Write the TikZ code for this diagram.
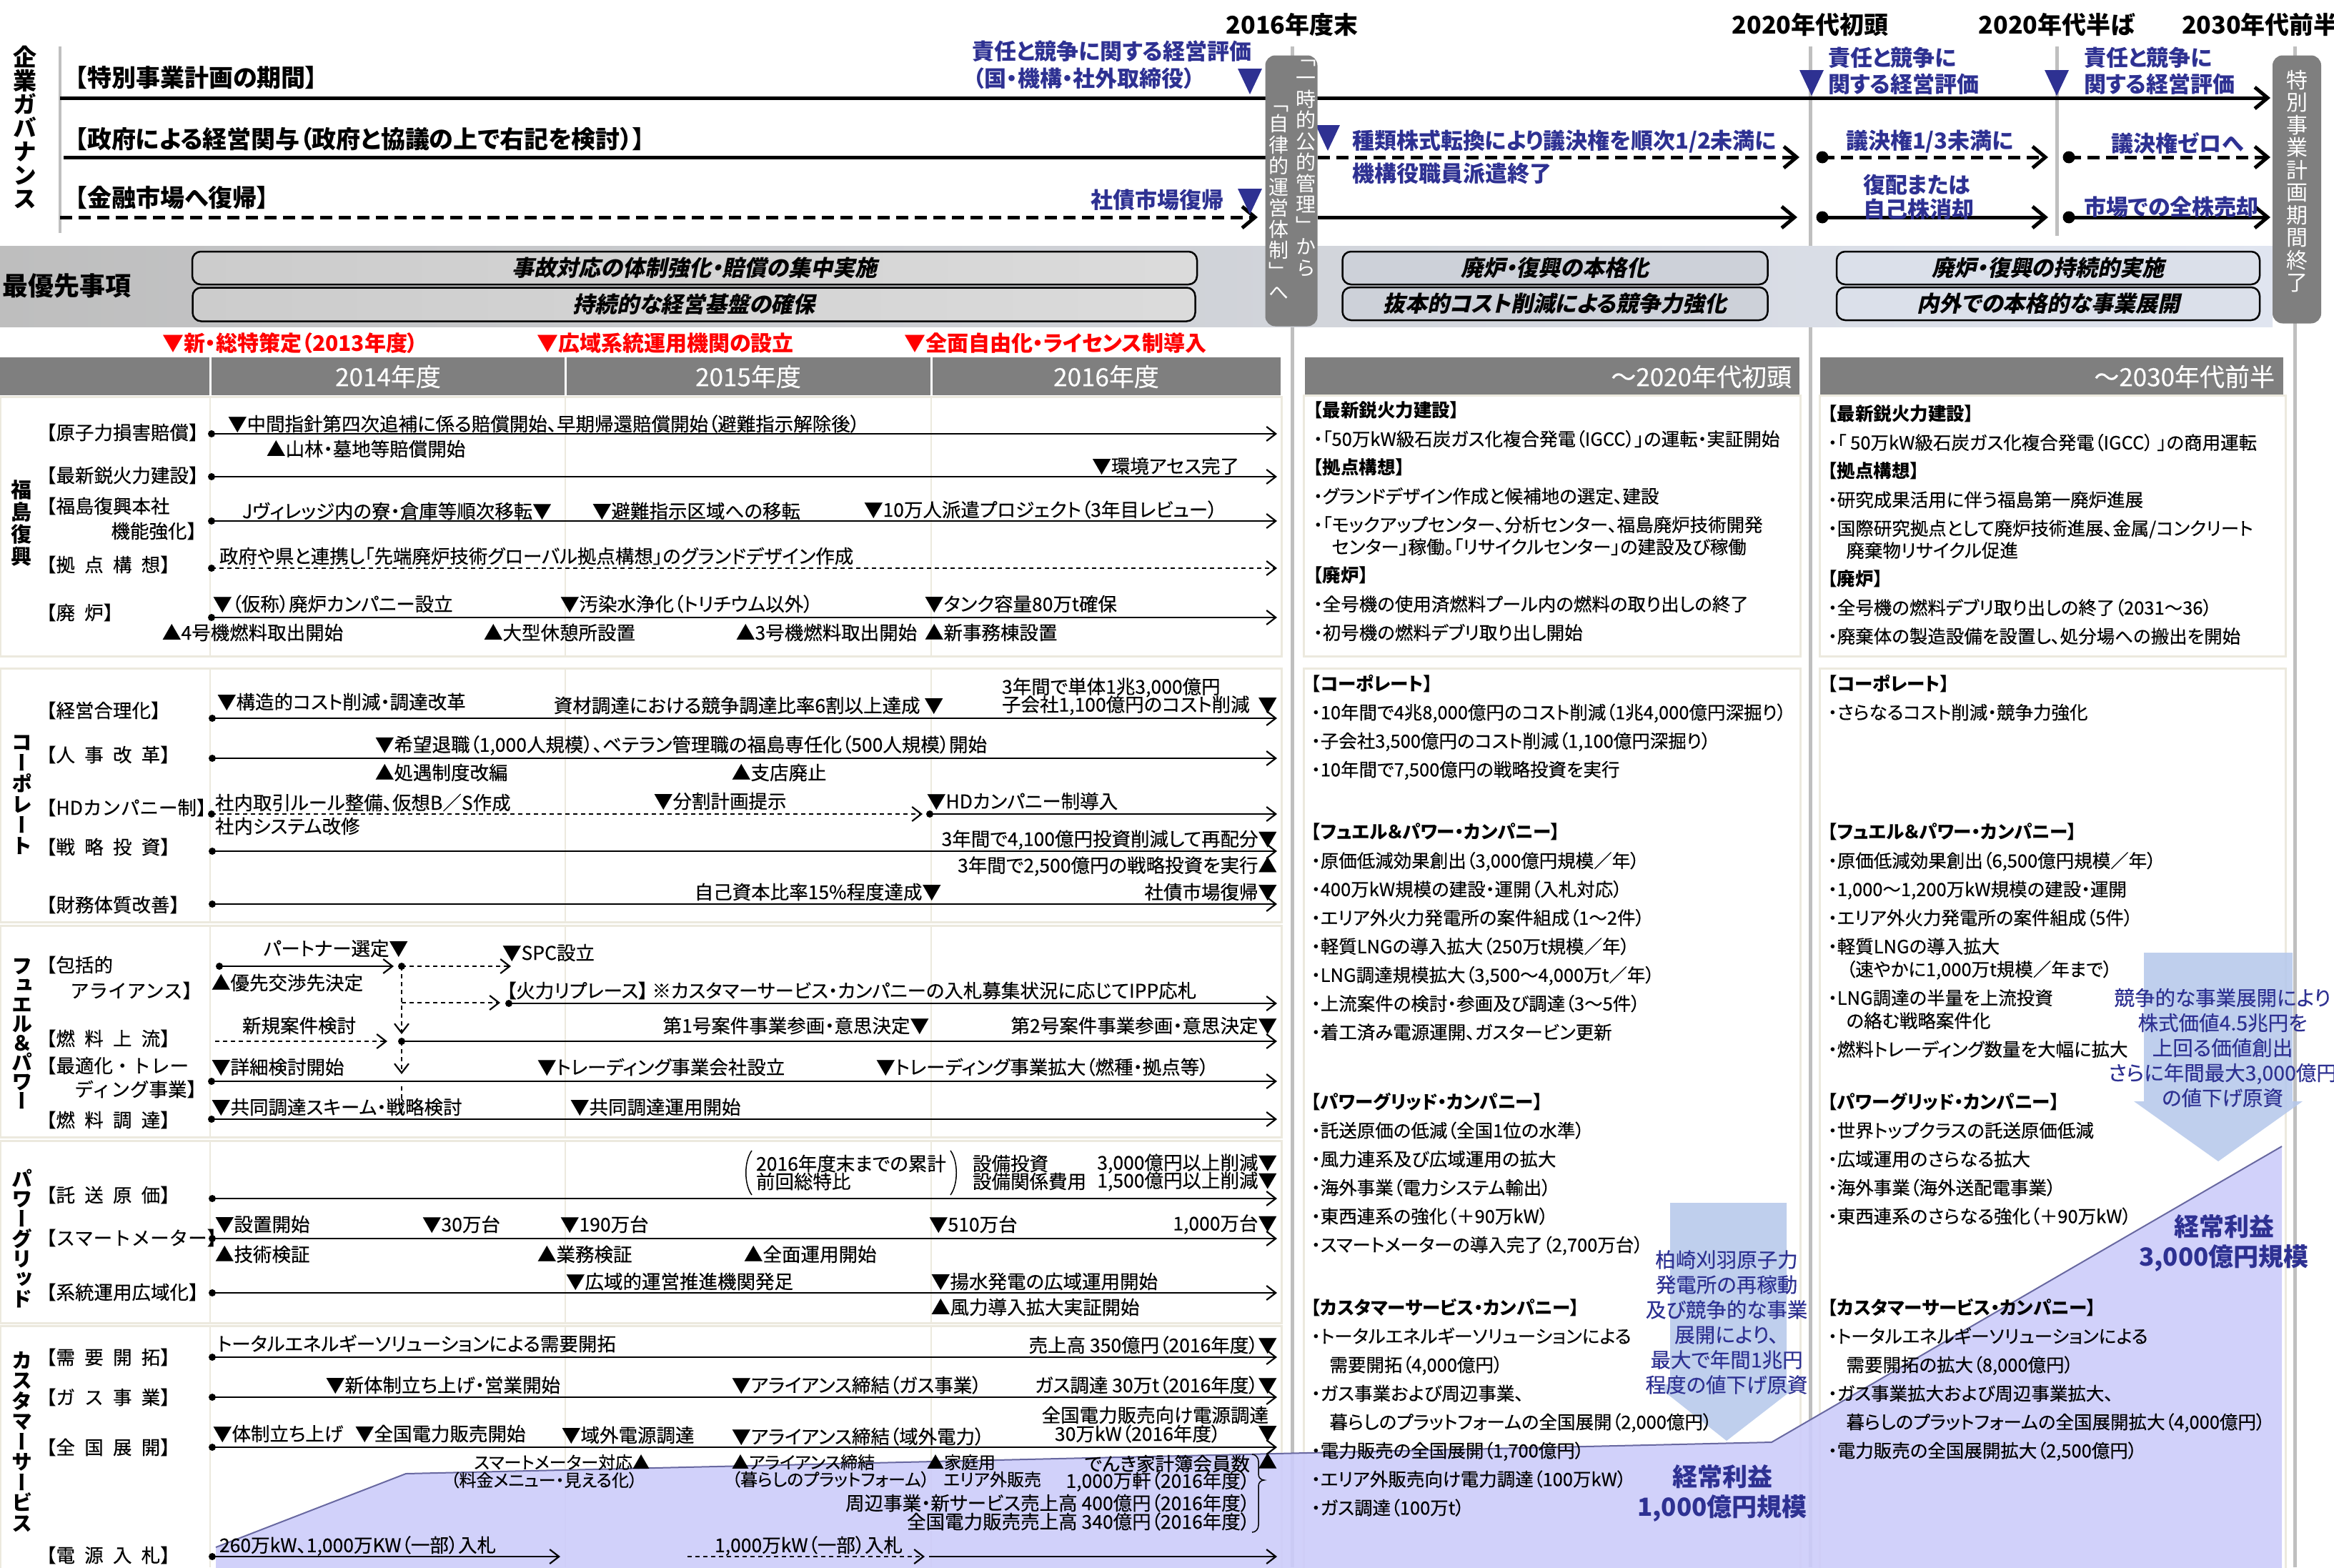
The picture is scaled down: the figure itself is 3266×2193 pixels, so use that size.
\documentclass[tikz,border=0pt]{standalone}
\usepackage{fontspec}
\setmainfont{Noto Sans CJK JP}[RawFeature=+palt,UprightFeatures={FakeBold=0.3}]
\newfontfamily\lfont{Noto Sans CJK JP}[UprightFeatures={FakeBold=0.3}]
\newfontfamily\slfont{Noto Sans CJK JP}[FakeSlant=0.22,RawFeature=+palt]
\newfontfamily\vfont{Noto Sans CJK JP}[RawFeature=+vert]
\usetikzlibrary{arrows.meta,positioning}
\definecolor{navyb}{RGB}{46,49,146}
\definecolor{hdgray}{RGB}{127,127,127}
\definecolor{beige}{RGB}{236,233,222}
\definecolor{tlgray}{RGB}{191,191,191}
\definecolor{lav}{RGB}{204,204,250}
\definecolor{lavedge}{RGB}{104,104,160}
\definecolor{arrblue}{RGB}{180,199,235}
\definecolor{bandl}{RGB}{190,190,190}
\definecolor{bandr}{RGB}{224,229,240}
\newcommand\fs[2]{\fontsize{#1}{#2}\selectfont}
\newcommand\gp{\hspace{0.5em}}
\makeatletter
\newcommand\tate[2]{\vbox{\baselineskip=#1\lineskiplimit=-\maxdimen
  \@tfor\tch:=#2\do{\hbox to 1em{\hss\tch\hss}}}}
\makeatother
\newcommand\mk[2]{\fill[navyb] (#1-17,#2-36) -- (#1+17,#2-36) -- (#1,#2) -- cycle;}

\begin{document}
\begin{tikzpicture}[x=1pt,y=-1pt]
  \tikzstyle{every node}=[inner sep=0pt,outer sep=0pt]
  \tikzstyle{txt}=[font=\fs{26.5}{30}]
  \tikzstyle{lw}=[txt,anchor=west]
  \tikzstyle{le}=[txt,anchor=east]
  \tikzstyle{sw}=[anchor=west,font=\fs{24}{28}]
  \tikzstyle{se}=[anchor=east,font=\fs{24}{28}]
  \tikzstyle{lab}=[anchor=west,font=\lfont\fs{26.5}{30}]
  \tikzstyle{labe}=[anchor=east,font=\lfont\fs{26.5}{30}]
  \tikzstyle{hg}=[anchor=west,font=\bfseries\fs{34}{40}]
  \tikzstyle{bl}=[anchor=west,font=\bfseries\fs{31}{38},text=navyb]
  \tikzstyle{evred}=[anchor=west,font=\bfseries\fs{30}{36},text=red]
  \tikzstyle{tl}=[line width=2.2pt,-{Straight Barb[length=13pt,width=20pt]}]
  \tikzstyle{tlf}=[tl,dash pattern=on 6pt off 5pt]
  \tikzstyle{gov}=[line width=5pt,-{Straight Barb[length=18pt,width=30pt]}]
  \tikzstyle{govd}=[gov,dash pattern=on 17pt off 9pt]
  \tikzstyle{dot}=[circle,fill=black,minimum size=10pt]
  \tikzstyle{bigdot}=[circle,fill=black,minimum size=17pt]
  \tikzstyle{prio}=[draw=black,line width=2.5pt,rounded corners=12pt,font=\slfont\bfseries\fs{31}{36}]
  \tikzstyle{sect}=[draw=beige,line width=3pt,fill=white]
  \tikzstyle{colsep}=[draw=beige,line width=2pt]
  \tikzstyle{tline}=[draw=tlgray,line width=5pt]
  \tikzstyle{hdt}=[text=white,font=\fs{35}{40}]
  \tikzstyle{vlab}=[anchor=north,font=\vfont\bfseries\fs{29}{29}]
  \tikzstyle{gbox}=[fill=hdgray,rounded corners=14pt]
  \tikzstyle{rt}=[anchor=north west,align=left,font=\fs{25.5}{40}]
  \tikzstyle{kei}=[align=center,font=\bfseries\fs{35}{42},text=navyb]
  \tikzstyle{arrt}=[align=center,font=\fs{28.5}{35},text=navyb]

  \useasboundingbox (0,0) rectangle (3266,2193);

  \draw[tline] (1808,65) -- (1808,2193);
  \draw[tline] (2533,65) -- (2533,2193);
  \draw[tline] (2878,65) -- (2878,330);
  \draw[tline] (3211,65) -- (3211,2193);
  \draw[tlgray,line width=4pt] (84,65) -- (84,326);

  \node[anchor=north,font=\vfont\bfseries\fs{33}{33}] (gov) at (35,64) {\tate{33pt}{企業ガバナンス}};
  \node[hg] (h1) at (105,109) {【特別事業計画の期間】};
  \node[hg] (h2) at (105,195) {【政府による経営関与（政府と協議の上で右記を検討）】};
  \node[hg] (h3) at (105,277) {【金融市場へ復帰】};

  \node[font=\bfseries\fs{34}{40}] (y16) at (1808,35) {2016年度末};
  \node[font=\bfseries\fs{34}{40}] (y20a) at (2533,35) {2020年代初頭};
  \node[font=\bfseries\fs{34}{40}] (y20b) at (2878,35) {2020年代半ば};
  \node[font=\bfseries\fs{34}{40},anchor=west] (y30) at (3053,35) {2030年代前半};

  \coordinate (g1s) at (84,137);
  \coordinate (g1e) at (3177,137);
  \draw[gov] (g1s) -- (g1e);
  \coordinate (g2s) at (89,220);
  \coordinate (g2m) at (1780,220);
  \coordinate (g2a) at (1844,220);
  \coordinate (g2b) at (2518,220);
  \node[bigdot] (g2c) at (2550,220) {};
  \coordinate (g2d) at (2866,220);
  \node[bigdot] (g2e) at (2895,220) {};
  \coordinate (g2f) at (3177,220);
  \draw[line width=5pt] (g2s) -- (g2m);
  \draw[govd] (g2a) -- (g2b);
  \draw[govd] (g2c.center) -- (g2d);
  \draw[govd] (g2e.center) -- (g2f);
  \coordinate (g3s) at (84,304);
  \coordinate (g3a) at (1760,304);
  \coordinate (g3b) at (1844,304);
  \coordinate (g3c) at (2515,304);
  \node[bigdot] (g3d) at (2550,304) {};
  \coordinate (g3e) at (2866,304);
  \node[bigdot] (g3f) at (2895,304) {};
  \coordinate (g3g) at (3177,304);
  \draw[govd] (g3s) -- (g3a);
  \draw[gov] (g3b) -- (g3c);
  \draw[gov] (g3d.center) -- (g3e);
  \draw[gov] (g3f.center) -- (g3g);

  \mk{1749}{132}
  \mk{1749}{300}
  \mk{1858}{211}
  \mk{2535}{134}
  \mk{2878}{134}

  \node[bl] (b1) at (1360,72) {責任と競争に関する経営評価};
  \node[bl] (b2) at (1362,110) {（国・機構・社外取締役）};
  \node[bl,anchor=east] (b3) at (1712,280) {社債市場復帰};
  \node[bl] (b4) at (1892,198) {種類株式転換により議決権を順次1/2未満に};
  \node[bl] (b5) at (1892,243) {機構役職員派遣終了};
  \node[bl] (b6) at (2558,81) {責任と競争に};
  \node[bl] (b7) at (2558,118) {関する経営評価};
  \node[bl] (b8) at (2583,198) {議決権1/3未満に};
  \node[bl] (b9) at (2607,259) {復配または};
  \node[bl] (b10) at (2607,293) {自己株消却};
  \node[bl] (b11) at (2916,81) {責任と競争に};
  \node[bl] (b12) at (2916,118) {関する経営評価};
  \node[bl] (b13) at (2954,200) {議決権ゼロへ};
  \node[bl] (b14) at (2916,290) {市場での全株売却};

  \shade[left color=bandl,right color=bandr] (0,344) rectangle (3180,457);
  \node[anchor=west,font=\bfseries\fs{36}{40}] (prio) at (3,400) {最優先事項};
  \node[prio,left color=gray!40,right color=gray!28,minimum width=1406pt,minimum height=46pt] (pa1) at (972,375) {事故対応の体制強化・賠償の集中実施};
  \node[prio,left color=gray!40,right color=gray!28,minimum width=1403pt,minimum height=47pt] (pa2) at (971,426) {持続的な経営基盤の確保};
  \node[prio,fill=bandr!80!gray,minimum width=595pt,minimum height=46pt] (pb1) at (2176,375) {廃炉・復興の本格化};
  \node[prio,fill=bandr!80!gray,minimum width=595pt,minimum height=46pt] (pb2) at (2176,425) {抜本的コスト削減による競争力強化};
  \node[prio,fill=bandr!95!gray,minimum width=592pt,minimum height=46pt] (pc1) at (2866,375) {廃炉・復興の持続的実施};
  \node[prio,fill=bandr!95!gray,minimum width=592pt,minimum height=46pt] (pc2) at (2866,425) {内外での本格的な事業展開};

  \node[gbox,minimum width=73pt,minimum height=379pt] (mid) at (1807,267) {};
  \node[anchor=north,text=white,font=\vfont\fs{28}{28}] (midr) at (1827,84) {\tate{29.5pt}{「一時的公的管理」から}};
  \node[anchor=north,text=white,font=\vfont\fs{28}{28}] (midl) at (1789,148) {\tate{29.5pt}{「自律的運営体制」へ}};
  \node[gbox,minimum width=68pt,minimum height=375pt] (endb) at (3214,265) {};
  \node[anchor=north,text=white,font=\vfont\fs{30}{30}] (endt) at (3214,98) {\tate{31.5pt}{特別事業計画期間終了}};

  \node[evred] (r1) at (227,480) {▼新・総特策定（2013年度）};
  \node[evred] (r2) at (751,480) {▼広域系統運用機関の設立};
  \node[evred] (r3) at (1265,480) {▼全面自由化・ライセンス制導入};

  \fill[hdgray] (0,500) rectangle (293,553);
  \fill[hdgray] (296,500) rectangle (790,553);
  \fill[hdgray] (793,500) rectangle (1302,553);
  \fill[hdgray] (1305,500) rectangle (1792,553);
  \fill[hdgray] (1826,500) rectangle (2518,553);
  \fill[hdgray] (2547,500) rectangle (3195,553);
  \node[hdt] (c14) at (543,527) {2014年度};
  \node[hdt] (c15) at (1047,527) {2015年度};
  \node[hdt] (c16) at (1548,527) {2016年度};
  \node[hdt,anchor=east] (c20) at (2507,527) {～2020年代初頭};
  \node[hdt,anchor=east] (c30) at (3183,527) {～2030年代前半};

  \draw[sect] (0,555) rectangle (1793,918);
  \draw[sect] (0,935) rectangle (1793,1290);
  \draw[sect] (0,1295) rectangle (1793,1591);
  \draw[sect] (0,1596) rectangle (1793,1851);
  \draw[sect] (0,1855) rectangle (1793,2210);
  \draw[sect] (1824,553) rectangle (2519,918);
  \draw[sect] (1824,935) rectangle (2519,2210);
  \draw[sect] (2546,553) rectangle (3198,918);
  \draw[sect] (2546,935) rectangle (3198,2210);
  \draw[colsep] (294,555) -- (294,918) (791,555) -- (791,918) (1303,555) -- (1303,918);
  \draw[colsep] (294,935) -- (294,1290) (791,935) -- (791,1290) (1303,935) -- (1303,1290);
  \draw[colsep] (294,1295) -- (294,1591) (791,1295) -- (791,1591) (1303,1295) -- (1303,1591);
  \draw[colsep] (294,1596) -- (294,1851) (791,1596) -- (791,1851) (1303,1596) -- (1303,1851);
  \draw[colsep] (294,1855) -- (294,2193) (791,1855) -- (791,2193) (1303,1855) -- (1303,2193);

  \fill[lav,opacity=0.9] (302,2200) -- (302,2165) -- (568,2062) -- (2479,2018) -- (3193,1604) -- (3193,2200) -- cycle;
  \draw[lavedge,line width=2pt] (302,2165) -- (568,2062) -- (2479,2018) -- (3193,1604);
  \fill[arrblue,opacity=0.85] (2337,1683) -- (2500,1683) -- (2500,1937) -- (2518,1937) -- (2416,2016) -- (2316,1937) -- (2337,1937) -- cycle;
  \fill[arrblue,opacity=0.85] (3000,1333) -- (3208,1333) -- (3208,1541) -- (3222,1541) -- (3104,1625) -- (2986,1541) -- (3000,1541) -- cycle;

  % Fukushima
  \node[vlab] (vfk) at (30,672) {\tate{31pt}{福島復興}};
  \node[lab] (l11) at (52,605) {【原子力損害賠償】};
  \node[lab] (l12) at (52,665) {【最新鋭火力建設】};
  \node[lab] (l13) at (52,708) {【福島復興本社};
  \node[labe] (l13b) at (288,743) {機能強化】};
  \node[lab] (l14) at (52,790) {【拠\gp 点\gp 構\gp 想】};
  \node[lab] (l15) at (52,857) {【廃\gp 炉】};
  \node[dot] (d11) at (296,607) {};
  \node[dot] (d12) at (296,667) {};
  \node[dot] (d13) at (296,729) {};
  \node[dot] (d14) at (296,795) {};
  \node[dot] (d15) at (296,864) {};
  \coordinate (e11) at (1787,607);
  \coordinate (e12) at (1787,667);
  \coordinate (e13) at (1787,729);
  \coordinate (e14) at (1787,795);
  \coordinate (e15) at (1787,864);
  \draw[tl] (d11.center) -- (e11);
  \draw[tl] (d12.center) -- (e12);
  \draw[tl] (d13.center) -- (e13);
  \draw[tlf] (d14.center) -- (e14);
  \draw[tl] (d15.center) -- (e15);
  \node[lw] (t11) at (319,593) {▼中間指針第四次追補に係る賠償開始、早期帰還賠償開始（避難指示解除後）};
  \node[lw] (t12) at (373,628) {▲山林・墓地等賠償開始};
  \node[le] (t13) at (1734,652) {▼環境アセス完了};
  \node[lw] (t14) at (339,715) {Jヴィレッジ内の寮・倉庫等順次移転▼};
  \node[lw] (t15) at (829,715) {▼避難指示区域への移転};
  \node[lw] (t16) at (1209,713) {▼10万人派遣プロジェクト（3年目レビュー）};
  \node[lw] (t17) at (307,778) {政府や県と連携し「先端廃炉技術グローバル拠点構想」のグランドデザイン作成};
  \node[lw] (t18) at (298,845) {▼（仮称）廃炉カンパニー設立};
  \node[lw] (t19) at (784,845) {▼汚染水浄化（トリチウム以外）};
  \node[lw] (t110) at (1294,845) {▼タンク容量80万t確保};
  \node[lw] (t111) at (227,885) {▲4号機燃料取出開始};
  \node[lw] (t112) at (677,885) {▲大型休憩所設置};
  \node[lw] (t113) at (1030,885) {▲3号機燃料取出開始};
  \node[lw] (t114) at (1294,885) {▲新事務棟設置};

  % Corporate
  \node[vlab] (vcp) at (31,1029) {\tate{29pt}{コーポレート}};
  \node[lab] (l21) at (52,994) {【経営合理化】};
  \node[lab] (l22) at (52,1056) {【人\gp 事\gp 改\gp 革】};
  \node[lab] (l23) at (52,1130) {【HDカンパニー制】};
  \node[lab] (l24) at (52,1185) {【戦\gp 略\gp 投\gp 資】};
  \node[lab] (l25) at (52,1266) {【財務体質改善】};
  \node[dot] (d21) at (297,1005) {};
  \node[dot] (d22) at (297,1061) {};
  \node[dot] (d23) at (296,1139) {};
  \node[dot] (d23b) at (1301,1139) {};
  \node[dot] (d24) at (297,1191) {};
  \node[dot] (d25) at (297,1265) {};
  \coordinate (e21) at (1787,1005);
  \coordinate (e22) at (1787,1061);
  \coordinate (e23a) at (1291,1139);
  \coordinate (e23) at (1787,1139);
  \coordinate (e24) at (1787,1191);
  \coordinate (e25) at (1787,1265);
  \draw[tl] (d21.center) -- (e21);
  \draw[tl] (d22.center) -- (e22);
  \draw[tlf] (d23.center) -- (e23a);
  \draw[tl] (d23b.center) -- (e23);
  \draw[tl] (d24.center) -- (e24);
  \draw[tl] (d25.center) -- (e25);
  \node[lw] (t21) at (304,982) {▼構造的コスト削減・調達改革};
  \node[le] (t22) at (1320,987) {資材調達における競争調達比率6割以上達成 ▼};
  \node[lw] (t23) at (1402,962) {3年間で単体1兆3,000億円};
  \node[lw] (t24) at (1402,987) {子会社1,100億円のコスト削減};
  \node[le] (t24b) at (1787,987) {▼};
  \node[lw] (t25) at (525,1043) {▼希望退職（1,000人規模）、ベテラン管理職の福島専任化（500人規模）開始};
  \node[lw] (t26) at (525,1081) {▲処遇制度改編};
  \node[lw] (t27) at (1024,1081) {▲支店廃止};
  \node[lw] (t28) at (301,1123) {社内取引ルール整備、仮想B／S作成};
  \node[lw] (t29) at (301,1156) {社内システム改修};
  \node[lw] (t210) at (915,1121) {▼分割計画提示};
  \node[lw] (t211) at (1297,1121) {▼HDカンパニー制導入};
  \node[le] (t212) at (1787,1175) {3年間で4,100億円投資削減して再配分▼};
  \node[le] (t213) at (1787,1212) {3年間で2,500億円の戦略投資を実行▲};
  \node[le] (t214) at (1317,1248) {自己資本比率15\%程度達成▼};
  \node[le] (t215) at (1787,1248) {社債市場復帰▼};

  % Fuel & Power
  \node[vlab] (vfp) at (31,1341) {\tate{27pt}{フュエル＆パワー}};
  \node[lab] (l31) at (52,1350) {【包括的};
  \node[labe] (l31b) at (282,1386) {アライアンス】};
  \node[lab] (l32) at (52,1453) {【燃\gp 料\gp 上\gp 流】};
  \node[lab] (l33) at (52,1491) {【最適化・トレー};
  \node[labe] (l33b) at (288,1524) {ディング事業】};
  \node[lab] (l34) at (52,1567) {【燃\gp 料\gp 調\gp 達】};
  \node[dot] (d31) at (307,1352) {};
  \node[dot] (d31b) at (562,1352) {};
  \node[dot] (d31c) at (712,1404) {};
  \node[dot] (d32) at (562,1457) {};
  \node[dot] (d33) at (296,1513) {};
  \node[dot] (d34) at (296,1566) {};
  \coordinate (e31a) at (551,1352);
  \coordinate (e31b) at (715,1352);
  \coordinate (v31) at (562,1403);
  \coordinate (e31c) at (700,1403);
  \coordinate (e31) at (1787,1404);
  \coordinate (s32) at (301,1457);
  \coordinate (e32a) at (542,1457);
  \coordinate (e32) at (1787,1457);
  \coordinate (v32) at (562,1447);
  \coordinate (v33) at (562,1503);
  \coordinate (v34a) at (562,1520);
  \coordinate (v34) at (562,1560);
  \coordinate (e33) at (1787,1513);
  \coordinate (e34) at (1787,1566);
  \draw[tl] (d31.center) -- (e31a);
  \draw[tlf] (d31b.center) -- (e31b);
  \draw[tlf] (d31b.center) -- (v32);
  \draw[tlf] (v31) -- (e31c);
  \draw[tl] (d31c.center) -- (e31);
  \draw[tlf] (s32) -- (e32a);
  \draw[tl] (d32.center) -- (e32);
  \draw[tlf] (d32.center) -- (v33);
  \draw[tlf,-] (v34a) -- (v34);
  \draw[tl] (d33.center) -- (e33);
  \draw[tl] (d34.center) -- (e34);
  \node[le] (t31) at (571,1327) {パートナー選定▼};
  \node[lw] (t32) at (703,1333) {▼SPC設立};
  \node[lw] (t33) at (296,1375) {▲優先交渉先決定};
  \node[lw] (t34) at (709,1386) {【火力リプレース】 ※カスタマーサービス・カンパニーの入札募集状況に応じてIPP応札};
  \node[lw] (t35) at (339,1435) {新規案件検討};
  \node[le] (t36) at (1300,1435) {第1号案件事業参画・意思決定▼};
  \node[le] (t37) at (1787,1435) {第2号案件事業参画・意思決定▼};
  \node[lw] (t38) at (296,1493) {▼詳細検討開始};
  \node[lw] (t39) at (752,1493) {▼トレーディング事業会社設立};
  \node[lw] (t310) at (1226,1493) {▼トレーディング事業拡大（燃種・拠点等）};
  \node[lw] (t311) at (296,1549) {▼共同調達スキーム・戦略検討};
  \node[lw] (t312) at (798,1549) {▼共同調達運用開始};

  % Power grid
  \node[vlab] (vpg) at (31,1636) {\tate{28pt}{パワーグリッド}};
  \node[lab] (l41) at (52,1672) {【託\gp 送\gp 原\gp 価】};
  \node[lab] (l42) at (52,1732) {【スマートメーター】};
  \node[lab] (l43) at (52,1808) {【系統運用広域化】};
  \node[dot] (d41) at (297,1677) {};
  \node[dot] (d42) at (297,1733) {};
  \node[dot] (d43) at (297,1809) {};
  \coordinate (e41) at (1787,1677);
  \coordinate (e42) at (1787,1733);
  \coordinate (e43) at (1787,1809);
  \draw[tl] (d41.center) -- (e41);
  \draw[tl] (d42.center) -- (e42);
  \draw[tl] (d43.center) -- (e43);
  \draw[line width=1.5pt] (1052,1610) .. controls (1041,1625) and (1041,1657) .. (1052,1672);
  \draw[line width=1.5pt] (1330,1610) .. controls (1341,1625) and (1341,1657) .. (1330,1672);
  \node[lw] (t41) at (1058,1628) {2016年度末までの累計};
  \node[lw] (t42) at (1058,1653) {前回総特比};
  \node[lw] (t43) at (1361,1628) {設備投資};
  \node[lw] (t44) at (1361,1653) {設備関係費用};
  \node[le] (t45) at (1787,1628) {3,000億円以上削減▼};
  \node[le] (t46) at (1787,1653) {1,500億円以上削減▼};
  \node[lw] (t47) at (301,1713) {▼設置開始};
  \node[lw] (t48) at (591,1713) {▼30万台};
  \node[lw] (t49) at (784,1713) {▼190万台};
  \node[lw] (t410) at (1300,1713) {▼510万台};
  \node[le] (t411) at (1787,1713) {1,000万台▼};
  \node[lw] (t412) at (301,1755) {▲技術検証};
  \node[lw] (t413) at (752,1755) {▲業務検証};
  \node[lw] (t414) at (1041,1755) {▲全面運用開始};
  \node[lw] (t415) at (792,1793) {▼広域的運営推進機関発足};
  \node[lw] (t416) at (1303,1793) {▼揚水発電の広域運用開始};
  \node[lw] (t417) at (1303,1829) {▲風力導入拡大実証開始};

  % Customer service
  \node[vlab] (vcs) at (31,1891) {\tate{28.5pt}{カスタマーサービス}};
  \node[lab] (l51) at (52,1899) {【需\gp 要\gp 開\gp 拓】};
  \node[lab] (l52) at (52,1955) {【ガ\gp ス\gp 事\gp 業】};
  \node[lab] (l53) at (52,2025) {【全\gp 国\gp 展\gp 開】};
  \node[lab] (l54) at (52,2176) {【電\gp 源\gp 入\gp 札】};
  \node[dot] (d51) at (297,1899) {};
  \node[dot] (d52) at (297,1955) {};
  \node[dot] (d53) at (297,2025) {};
  \node[dot] (d54) at (297,2178) {};
  \coordinate (e51) at (1787,1899);
  \coordinate (e52) at (1787,1955);
  \coordinate (e53) at (1787,2025);
  \coordinate (e54a) at (784,2178);
  \coordinate (s54b) at (962,2178);
  \coordinate (e54b) at (1294,2178);
  \coordinate (s54c) at (1300,2178);
  \coordinate (e54) at (1787,2178);
  \draw[tl] (d51.center) -- (e51);
  \draw[tl] (d52.center) -- (e52);
  \draw[tl] (d53.center) -- (e53);
  \draw[tl] (d54.center) -- (e54a);
  \draw[tlf] (s54b) -- (e54b);
  \draw[tl] (s54c) -- (e54);
  \node[lw] (t51) at (304,1880) {トータルエネルギーソリューションによる需要開拓};
  \node[le] (t52) at (1787,1882) {売上高 350億円（2016年度）▼};
  \node[lw] (t53) at (456,1938) {▼新体制立ち上げ・営業開始};
  \node[lw] (t54) at (1024,1938) {▼アライアンス締結（ガス事業）};
  \node[le] (t55) at (1787,1938) {ガス調達 30万t（2016年度）▼};
  \node[lw] (t56) at (298,2006) {▼体制立ち上げ};
  \node[lw] (t57) at (497,2006) {▼全国電力販売開始};
  \node[lw] (t58) at (786,2008) {▼域外電源調達};
  \node[lw] (t59) at (1024,2010) {▼アライアンス締結（域外電力）};
  \node[le] (t510) at (1775,1980) {全国電力販売向け電源調達};
  \node[lw] (t511) at (1476,2006) {30万kW（2016年度）};
  \node[le] (t512) at (1787,2006) {▼};
  \node[se] (t513) at (909,2046) {スマートメーター対応▲};
  \node[se] (t514) at (892,2071) {（料金メニュー・見える化）};
  \node[sw] (t515) at (1024,2046) {▲アライアンス締結};
  \node[sw] (t516) at (1024,2070) {（暮らしのプラットフォーム）};
  \node[sw] (t517) at (1297,2046) {▲家庭用};
  \node[sw] (t518) at (1320,2070) {エリア外販売};
  \node[le] (t519) at (1749,2048) {でんき家計簿会員数};
  \node[le] (t520) at (1749,2073) {1,000万軒（2016年度）};
  \node[le] (t521) at (1749,2103) {周辺事業・新サービス売上高 400億円（2016年度）};
  \node[le] (t522) at (1749,2129) {全国電力販売売上高 340億円（2016年度）};
  \draw[line width=1.5pt] (1752,2035) to[out=0,in=90] (1761,2045) -- (1761,2063) to[out=-90,in=180] (1769,2071) to[out=180,in=90] (1761,2079) -- (1761,2134) to[out=-90,in=0] (1752,2144);
  \node[le] (t523) at (1787,2044) {▲};
  \node[lw] (t524) at (307,2163) {260万kW、1,000万KW（一部）入札};
  \node[lw] (t525) at (1000,2163) {1,000万kW（一部）入札};

  % right columns
  \node[rt] (ra1) at (1838,562) {{\bfseries【最新鋭火力建設】}\\
    ・「50万kW級石炭ガス化複合発電（IGCC）」の運転・実証開始\\
    {\bfseries【拠点構想】}\\
    ・グランドデザイン作成と候補地の選定、建設\\
    ・「モックアップセンター、分析センター、福島廃炉技術開発\\[-9pt]
    \quad センター」稼働。「リサイクルセンター」の建設及び稼働\\
    {\bfseries【廃炉】}\\
    ・全号機の使用済燃料プール内の燃料の取り出しの終了\\
    ・初号機の燃料デブリ取り出し開始};
  \node[rt] (rb1) at (2558,567) {{\bfseries【最新鋭火力建設】}\\
    ・「 50万kW級石炭ガス化複合発電（IGCC） 」の商用運転\\
    {\bfseries【拠点構想】}\\
    ・研究成果活用に伴う福島第一廃炉進展\\
    ・国際研究拠点として廃炉技術進展、金属/コンクリート\\[-9pt]
    \quad 廃棄物リサイクル促進\\
    {\bfseries【廃炉】}\\
    ・全号機の燃料デブリ取り出しの終了（2031～36）\\
    ・廃棄体の製造設備を設置し、処分場への搬出を開始};

  \node[rt] (ra2) at (1835,944) {{\bfseries【コーポレート】}\\
    ・10年間で4兆8,000億円のコスト削減（1兆4,000億円深掘り）\\
    ・子会社3,500億円のコスト削減（1,100億円深掘り）\\
    ・10年間で7,500億円の戦略投資を実行};
  \node[rt] (ra3) at (1835,1152) {{\bfseries【フュエル＆パワー・カンパニー】}\\
    ・原価低減効果創出（3,000億円規模／年）\\
    ・400万kW規模の建設・運開（入札対応）\\
    ・エリア外火力発電所の案件組成（1～2件）\\
    ・軽質LNGの導入拡大（250万t規模／年）\\
    ・LNG調達規模拡大（3,500～4,000万t／年）\\
    ・上流案件の検討・参画及び調達（3～5件）\\
    ・着工済み電源運開、ガスタービン更新};
  \node[rt] (ra4) at (1835,1529) {{\bfseries【パワーグリッド・カンパニー】}\\
    ・託送原価の低減（全国1位の水準）\\
    ・風力連系及び広域運用の拡大\\
    ・海外事業（電力システム輸出）\\
    ・東西連系の強化（＋90万kW）\\
    ・スマートメーターの導入完了（2,700万台）};
  \node[rt] (ra5) at (1835,1817) {{\bfseries【カスタマーサービス・カンパニー】}\\
    ・トータルエネルギーソリューションによる\\
    \quad 需要開拓（4,000億円）\\
    ・ガス事業および周辺事業、\\
    \quad 暮らしのプラットフォームの全国展開（2,000億円）\\
    ・電力販売の全国展開（1,700億円）\\
    ・エリア外販売向け電力調達（100万kW）\\
    ・ガス調達（100万t）};

  \node[rt] (rb2) at (2558,944) {{\bfseries【コーポレート】}\\
    ・さらなるコスト削減・競争力強化};
  \node[rt] (rb3) at (2558,1152) {{\bfseries【フュエル＆パワー・カンパニー】}\\
    ・原価低減効果創出（6,500億円規模／年）\\
    ・1,000～1,200万kW規模の建設・運開\\
    ・エリア外火力発電所の案件組成（5件）\\
    ・軽質LNGの導入拡大\\[-8pt]
    \quad（速やかに1,000万t規模／年まで）\\
    ・LNG調達の半量を上流投資\\[-8pt]
    \quad の絡む戦略案件化\\
    ・燃料トレーディング数量を大幅に拡大};
  \node[rt] (rb4) at (2558,1529) {{\bfseries【パワーグリッド・カンパニー】}\\
    ・世界トップクラスの託送原価低減\\
    ・広域運用のさらなる拡大\\
    ・海外事業（海外送配電事業）\\
    ・東西連系のさらなる強化（＋90万kW）};
  \node[rt] (rb5) at (2558,1817) {{\bfseries【カスタマーサービス・カンパニー】}\\
    ・トータルエネルギーソリューションによる\\
    \quad 需要開拓の拡大（8,000億円）\\
    ・ガス事業拡大および周辺事業拡大、\\
    \quad 暮らしのプラットフォームの全国展開拡大（4,000億円）\\
    ・電力販売の全国展開拡大（2,500億円）};

  \node[arrt] (ak) at (2416,1850) {柏崎刈羽原子力\\発電所の再稼動\\及び競争的な事業\\展開により、\\最大で年間1兆円\\程度の値下げ原資};
  \node[arrt] (ac) at (3110,1466) {競争的な事業展開により\\株式価値4.5兆円を\\上回る価値創出\\さらに年間最大3,000億円\\の値下げ原資};
  \node[kei] (k1) at (2410,2089) {経常利益\\1,000億円規模};
  \node[kei] (k2) at (3112,1739) {経常利益\\3,000億円規模};
\end{tikzpicture}
\end{document}
